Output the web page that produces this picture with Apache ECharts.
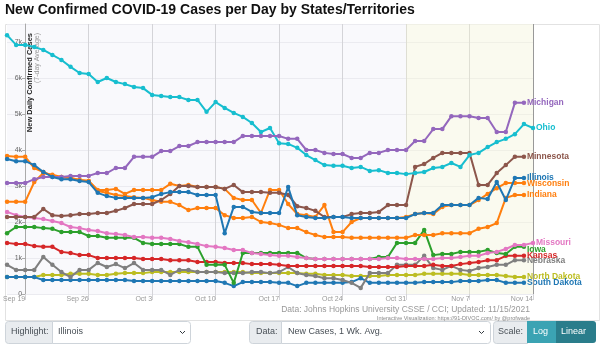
<!DOCTYPE html>
<html><head><meta charset="utf-8">
<script src="https://cdn.jsdelivr.net/npm/echarts@6/dist/echarts.min.js"></script>
<style>html,body{margin:0;padding:0;background:#fff}#c{width:600px;height:346px}</style>
</head><body><div id="c"></div>
<script>
const dates = ["Sep 17","Sep 18","Sep 19","Sep 20","Sep 21","Sep 22","Sep 23","Sep 24","Sep 25","Sep 26","Sep 27","Sep 28","Sep 29","Sep 30",
"Oct 1","Oct 2","Oct 3","Oct 4","Oct 5","Oct 6","Oct 7","Oct 8","Oct 9","Oct 10","Oct 11","Oct 12","Oct 13","Oct 14","Oct 15","Oct 16","Oct 17","Oct 18","Oct 19","Oct 20","Oct 21","Oct 22","Oct 23","Oct 24","Oct 25","Oct 26","Oct 27","Oct 28","Oct 29","Oct 30","Oct 31",
"Nov 1","Nov 2","Nov 3","Nov 4","Nov 5","Nov 6","Nov 7","Nov 8","Nov 9","Nov 10","Nov 11","Nov 12","Nov 13","Nov 14"];
const xTickLabels = ["Sep 19","Sep 26","Oct 3","Oct 10","Oct 17","Oct 24","Oct 31","Nov 7","Nov 14"];
const yTickLabels = ["0","1k","2k","3k","4k","5k","6k","7k"];

const ohio = [7190,6920,6920,6860,6780,6640,6500,6310,6140,6110,5890,6000,5890,5830,5750,5720,5530,5500,5470,5470,5390,5390,5060,5330,5170,5030,4920,4750,4500,4610,4190,4170,4060,3860,3720,3580,3560,3560,3500,3530,3420,3440,3360,3360,3330,3360,3390,3500,3530,3640,3530,3860,3920,4080,4220,4310,4440,4720,4610];
const michigan = [3080,3080,3080,3190,3250,3250,3250,3280,3280,3280,3360,3360,3500,3500,3810,3810,3810,3970,3970,4110,4110,4220,4220,4220,4220,4220,4390,4390,4390,4390,4390,4310,4310,4000,4000,3920,3890,3890,3780,3780,3920,3920,4000,4000,4000,4250,4250,4580,4580,4940,4940,4940,4890,4890,4500,4500,5310,5310];
const minnesota = [2140,2140,2140,2140,2360,2190,2170,2190,2220,2220,2250,2250,2310,2390,2500,2500,2500,2610,2780,3000,3000,2970,2970,2970,2920,3030,2830,2830,2830,2810,2810,2750,2440,2390,2310,2140,2140,2140,2220,2250,2250,2280,2470,2470,2470,3530,3610,3780,3920,3920,3920,3920,3030,3030,3360,3580,3810,3810];
const illinois = [3750,3690,3690,3580,3390,3250,3190,3190,3140,3110,2810,2720,2670,2670,2670,2670,2690,2780,2830,2830,2830,2750,2750,2750,1690,2420,2420,2280,2250,2250,2250,2970,2190,2140,2110,2110,2140,2140,2110,2110,2110,2110,2110,2110,2110,2220,2250,2250,2470,2470,2470,2470,2670,2640,3110,2610,3220,3220];
const wisconsin = [2560,2560,2560,3110,3360,3310,3250,3220,3170,3140,2890,2890,2920,2780,2890,2890,2890,2890,3060,3000,3030,2970,2970,2970,2920,2670,2610,2610,2250,2890,2890,2500,2220,2190,2140,2470,1720,1720,2000,2110,2110,2110,2110,2110,2140,2220,2250,2220,2420,2470,2470,2470,2610,2780,2940,3080,3080,3080];
const indiana = [3830,3810,3810,3500,3390,3280,3250,3220,3170,3140,2860,2810,2750,2720,2690,2670,2610,2560,2560,2470,2330,2390,2390,2390,2190,2110,2110,2140,2000,1970,1920,1830,1830,1720,1640,1580,1580,1580,1560,1560,1560,1560,1560,1560,1560,1640,1640,1640,1690,1690,1690,1690,1810,1860,1970,2670,2750,2750];
const missouri = [2280,2190,2140,2110,2080,2030,1970,1860,1830,1780,1750,1690,1670,1640,1580,1580,1560,1560,1530,1470,1440,1390,1330,1310,1280,1220,1220,1140,1110,1080,1060,1060,1030,1000,970,970,970,970,970,970,970,970,1000,1000,970,970,970,970,1000,1000,1030,1060,1060,1140,1170,1250,1360,1360,1420];
const iowa = [1690,1860,1860,1860,1830,1810,1720,1720,1720,1610,1610,1560,1560,1560,1560,1420,1390,1390,1390,1390,1310,1310,810,810,810,310,1140,1140,1140,1140,1140,1140,1140,1000,970,970,970,970,970,970,970,1030,1030,1420,1420,1420,1780,1080,1110,1110,1170,1170,1170,1220,1140,1110,1310,1310];
const kansas = [1420,1390,1390,1330,1310,1310,1170,1140,1080,1080,1000,1000,1000,1000,1000,970,970,970,940,940,940,890,890,890,860,860,860,830,830,830,810,780,780,780,780,780,780,780,780,780,750,750,750,750,780,780,780,810,780,780,830,860,890,940,940,1060,1060,1060];
const nebraska = [810,670,670,670,1030,810,610,470,670,670,860,750,830,720,860,670,670,670,530,670,670,610,610,610,580,580,580,610,610,580,610,750,580,530,500,440,440,390,310,170,580,580,580,810,810,810,1060,720,670,780,670,640,720,750,810,810,940,940];
const northDakota = [470,470,470,470,530,530,530,560,560,560,530,530,560,580,580,580,610,610,610,610,610,610,610,610,610,610,610,580,580,580,580,580,580,560,560,530,530,530,500,500,500,500,530,530,530,530,560,560,560,560,560,530,530,530,530,500,470,470];
const southDakota = [470,470,470,470,390,390,390,390,390,390,390,390,390,390,360,360,360,360,360,360,360,360,360,360,310,220,330,330,330,330,310,310,220,310,310,310,310,310,330,440,310,310,310,310,310,310,330,330,330,330,360,360,360,390,390,310,310,310];

const seriesList = [
  {name:"North Dakota", data:northDakota, color:"#bcbd22"},
  {name:"South Dakota", data:southDakota, color:"#1f77b4"},
  {name:"Nebraska", data:nebraska, color:"#7f7f7f"},
  {name:"Kansas", data:kansas, color:"#d62728"},
  {name:"Iowa", data:iowa, color:"#2ca02c", dy:3},
  {name:"Missouri", data:missouri, color:"#e377c2"},
  {name:"Indiana", data:indiana, color:"#ff7f0e"},
  {name:"Wisconsin", data:wisconsin, color:"#ff7f0e", dy:1},
  {name:"Minnesota", data:minnesota, color:"#8c564b"},
  {name:"Ohio", data:ohio, color:"#17becf"},
  {name:"Michigan", data:michigan, color:"#9467bd"},
  {name:"Illinois", data:illinois, color:"#1f77b4"}
];

const isTick = (i, v) => xTickLabels.indexOf(v) >= 0;
const FONT = '"Liberation Sans", Arial, sans-serif';

const series = seriesList.map((s, k) => ({
  name: s.name, type: 'line', data: s.data,
  symbol: 'circle', symbolSize: 4.5, showAllSymbol: true,
  lineStyle: {width: 2, color: s.color},
  itemStyle: {color: s.color},
  emphasis: {disabled: true},
  endLabel: {show: true, formatter: '{a}', color: s.color, fontSize: 8.5, fontWeight: 'bold',
             fontFamily: FONT, distance: 3, offset: [0, s.dy || 0]},
  z: 3 + k
}));
series.push({
  type: 'line', data: [], silent: true,
  markArea: {silent: true, itemStyle: {color: 'rgba(255,255,200,0.25)'}, data: [[{xAxis: 'Oct 31'}, {xAxis: 'Nov 14'}]]},
  markLine: {silent: true, symbol: 'none', label: {show: false}, lineStyle: {color: '#999', width: 1, type: 'solid'},
             data: [{xAxis: 'Nov 14'}]},
  z: 1
});

const chart = echarts.init(document.getElementById('c'), null, {renderer: 'canvas'});
chart.setOption({
  animation: false,
  textStyle: {fontFamily: FONT},
  grid: {left: 7, right: 67, top: 24, bottom: 52, show: true, backgroundColor: '#f9f9fc', borderWidth: 0},
  xAxis: {
    type: 'category', data: dates, boundaryGap: false,
    axisLine: {show: false},
    axisTick: {show: true, interval: isTick, length: 6, lineStyle: {color: '#d4d4d8'}},
    axisLabel: {interval: isTick, align: 'right', fontSize: 7, color: '#999', margin: 2},
    splitLine: {show: true, interval: isTick, lineStyle: {color: '#d4d4d8', width: 1}}
  },
  yAxis: {
    type: 'value', min: 0, max: 7500, interval: 1000, offset: -18,
    axisLine: {show: true, lineStyle: {color: '#aaa'}},
    axisTick: {show: true, length: 3, lineStyle: {color: '#aaa'}},
    axisLabel: {fontSize: 7, color: '#666', margin: 3, showMaxLabel: false,
                formatter: v => yTickLabels[v / 1000] || ''},
    splitLine: {show: true, lineStyle: {color: '#ebebf0'}}
  },
  series: series,
  graphic: [
    {type: 'rect', left: 3, top: 22, shape: {width: 594, height: 296}, style: {fill: 'none', stroke: '#e2e2e2', lineWidth: 1}, z: -1},
    {type: 'text', left: 5, top: 3, style: {text: 'New Confirmed COVID-19 Cases per Day by States/Territories', font: 'bold 14px ' + FONT, fill: '#111'}},
    {type: 'text', x: 30, y: 33, rotation: Math.PI / 2, style: {text: 'New Daily Confirmed Cases', font: 'bold 7.5px ' + FONT, fill: '#222', textAlign: 'right', textVerticalAlign: 'middle'}, z: 10},
    {type: 'text', x: 37, y: 33, rotation: Math.PI / 2, style: {text: '(7-day Average)', font: '7px ' + FONT, fill: '#999', textAlign: 'right', textVerticalAlign: 'middle'}, z: 10},
    {type: 'text', right: 70, top: 305, style: {text: 'Data: Johns Hopkins University CSSE / CCI; Updated: 11/15/2021', font: '8.5px ' + FONT, fill: '#999'}},
    {type: 'text', right: 70, top: 315, style: {text: 'Interactive Visualization: https://91-DIVOC.com/ by @profwade', font: '5.5px ' + FONT, fill: '#888'}},
    {type: 'rect', left: 5, top: 321, shape: {width: 47, height: 22, r: [3, 0, 0, 3]}, style: {fill: '#e9ecef', stroke: '#ced4da'}},
    {type: 'text', left: 11, top: 327, style: {text: 'Highlight:', font: '9px ' + FONT, fill: '#495057'}},
    {type: 'rect', left: 52, top: 321, shape: {width: 138, height: 22, r: [0, 3, 3, 0]}, style: {fill: '#fff', stroke: '#ced4da'}},
    {type: 'text', left: 58, top: 327, style: {text: 'Illinois', font: '9px ' + FONT, fill: '#495057'}},
    {type: 'polyline', shape: {points: [[180, 331], [182.5, 333.5], [185, 331]]}, style: {stroke: '#343a40', lineWidth: 1, fill: null}},
    {type: 'rect', left: 249, top: 321, shape: {width: 32, height: 22, r: [3, 0, 0, 3]}, style: {fill: '#e9ecef', stroke: '#ced4da'}},
    {type: 'text', left: 256, top: 327, style: {text: 'Data:', font: '9px ' + FONT, fill: '#495057'}},
    {type: 'rect', left: 281, top: 321, shape: {width: 209, height: 22, r: [0, 3, 3, 0]}, style: {fill: '#fff', stroke: '#ced4da'}},
    {type: 'text', left: 288, top: 327, style: {text: 'New Cases, 1 Wk. Avg.', font: '9px ' + FONT, fill: '#495057'}},
    {type: 'polyline', shape: {points: [[479, 331], [481.5, 333.5], [484, 331]]}, style: {stroke: '#343a40', lineWidth: 1, fill: null}},
    {type: 'rect', left: 493, top: 321, shape: {width: 34, height: 22, r: [3, 0, 0, 3]}, style: {fill: '#e9ecef', stroke: '#ced4da'}},
    {type: 'text', left: 498, top: 327, style: {text: 'Scale:', font: '9px ' + FONT, fill: '#495057'}},
    {type: 'rect', left: 527, top: 321, shape: {width: 29, height: 22}, style: {fill: '#3ba3b3'}},
    {type: 'text', left: 533, top: 327, style: {text: 'Log', font: '9px ' + FONT, fill: '#fff'}},
    {type: 'rect', left: 556, top: 321, shape: {width: 40, height: 22, r: [0, 3, 3, 0]}, style: {fill: '#2a7d8b'}},
    {type: 'text', left: 561, top: 327, style: {text: 'Linear', font: '9px ' + FONT, fill: '#fff'}}
  ]
});
</script>
</body></html>
